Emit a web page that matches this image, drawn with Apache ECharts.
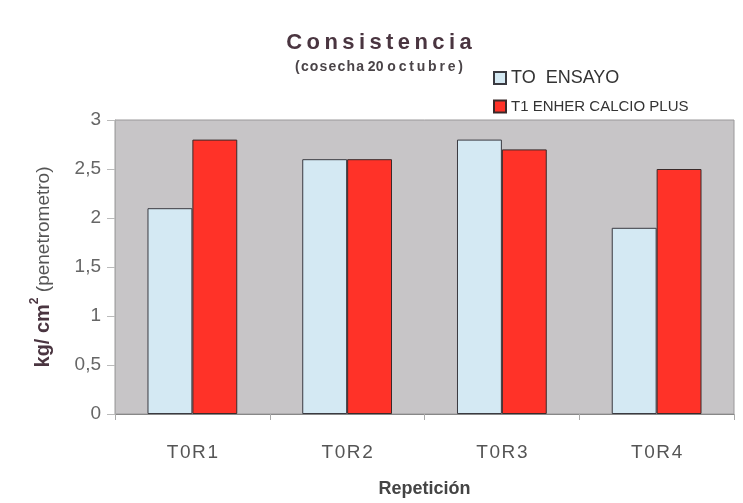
<!DOCTYPE html>
<html><head><meta charset="utf-8">
<script src="https://cdn.jsdelivr.net/npm/echarts@6/dist/echarts.min.js"></script>
<style>html,body{margin:0;padding:0;background:#fff}#c{width:743px;height:503px}</style>
</head><body><div id="c"></div>
<script>
const categories = ['T0R1', 'T0R2', 'T0R3', 'T0R4'];
const seriesNames = ['TO  ENSAYO', 'T1 ENHER CALCIO PLUS'];
const t0Ensayo = [2.1, 2.6, 2.8, 1.9];
const t1Calcio = [2.8, 2.6, 2.7, 2.5];
const yTicks = [0, 0.5, 1, 1.5, 2, 2.5, 3];

const chart = echarts.init(document.getElementById('c'), null, {renderer: 'canvas'});
const ts = '\u2009';
const hs = '\u200A';
const spaced = (s, sp) => s.split('').join(sp);
chart.setOption({
  backgroundColor: '#ffffff',
  animation: false,
  title: {
    text: spaced('Consistencia', ts),
    subtext: spaced('(cosecha', hs) + ' 20 ' + spaced('octubre)', ts),
    left: 374, textAlign: 'center', top: 27,
    itemGap: 6,
    textStyle: {fontFamily: 'Liberation Sans, Arial', fontWeight: 'bold', fontSize: 22, color: '#4a3540'},
    subtextStyle: {fontFamily: 'Liberation Sans, Arial', fontWeight: 'bold', fontSize: 14, color: '#4a4448'}
  },
  legend: {
    orient: 'vertical', left: 488, top: 64, itemWidth: 12, itemHeight: 12, itemGap: 12,
    icon: 'rect',
    data: seriesNames,
    formatter: n => n === seriesNames[1] ? '{b|' + n + '}' : '{a|' + n + '}',
    textStyle: {
      color: '#333',
      rich: {
        a: {fontFamily: 'Liberation Sans, Arial', fontSize: 18, color: '#333'},
        b: {fontFamily: 'Liberation Sans Narrow, Arial Narrow, Liberation Sans', fontSize: 15, color: '#333'}
      }
    }
  },
  grid: {left: 115, right: 9, top: 120, bottom: 88, show: true, backgroundColor: '#c7c5c7', borderColor: '#9a989a', borderWidth: 1},
  xAxis: {
    type: 'category', data: categories,
    name: 'Repetición', nameLocation: 'middle', nameGap: 66,
    nameTextStyle: {fontFamily: 'Liberation Sans, Arial', fontWeight: 'bold', fontSize: 18, color: '#444'},
    axisLine: {lineStyle: {color: '#888'}},
    axisTick: {show: true, length: 6, lineStyle: {color: '#aaa'}},
    axisLabel: {margin: 29, fontFamily: 'Liberation Sans, Arial', fontSize: 19, color: '#555', formatter: v => spaced(v, hs)}
  },
  yAxis: {
    type: 'value', min: yTicks[0], max: yTicks[yTicks.length - 1], interval: 0.5,
    name: '{b|kg/ cm}{s|2}{n| (penetrometro)}', nameLocation: 'middle', nameGap: 62, nameRotate: 90,
    nameTextStyle: {
      rich: {
        b: {fontFamily: 'Liberation Sans, Arial', fontWeight: 'bold', fontSize: 20, color: '#4a3540', verticalAlign: 'bottom', lineHeight: 24},
        s: {fontFamily: 'Liberation Sans, Arial', fontWeight: 'bold', fontSize: 12, color: '#4a3540', verticalAlign: 'top', lineHeight: 24},
        n: {fontFamily: 'Liberation Sans, Arial', fontSize: 19, color: '#555', verticalAlign: 'bottom', lineHeight: 24}
      }
    },
    axisLine: {show: true, lineStyle: {color: '#aaa'}},
    axisTick: {show: true, length: 8, lineStyle: {color: '#bbb'}},
    splitLine: {show: false},
    axisLabel: {margin: 14, fontFamily: 'Liberation Sans, Arial', fontSize: 19, color: '#666', formatter: v => String(v).replace('.', ',')}
  },
  series: [
    {name: seriesNames[0], type: 'bar', data: t0Ensayo, barGap: '0%', barCategoryGap: '42%',
     itemStyle: {color: '#d4e9f3', borderColor: '#3a3a40', borderWidth: 1}},
    {name: seriesNames[1], type: 'bar', data: t1Calcio,
     itemStyle: {color: '#ff3228', borderColor: '#3a2a2a', borderWidth: 1}}
  ]
});
</script></body></html>
